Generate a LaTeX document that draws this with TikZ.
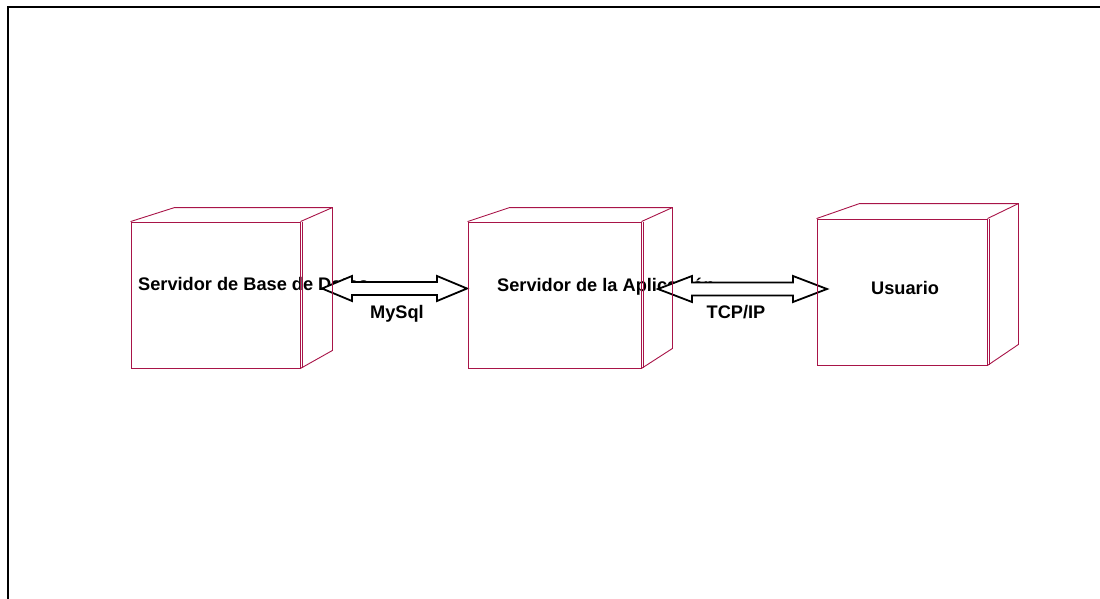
\documentclass[tikz,border=0pt]{standalone}
\usepackage{fontspec}
\setmainfont{Liberation Sans}
\usetikzlibrary{calc}
\definecolor{nodecol}{RGB}{168,20,72}
\newcommand\blockarrow[4]{%
  \draw[barrow] let \p1=(#1), \p2=(#2) in
    (\p1) -- (\x1+#3pt,\y1+#4pt) -- (\x1+#3pt,\y1+6.5pt) -- (\x2-#3pt,\y1+6.5pt)
    -- (\x2-#3pt,\y1+#4pt) -- (\p2) -- (\x2-#3pt,\y1-#4pt) -- (\x2-#3pt,\y1-6.5pt)
    -- (\x1+#3pt,\y1-6.5pt) -- (\x1+#3pt,\y1-#4pt) -- cycle;}
\begin{document}
\begin{tikzpicture}[x=1pt,y=-1pt,
  front/.style={draw=nodecol,line width=0.9pt,inner sep=0pt,fill=none},
  edge3d/.style={draw=nodecol,line width=0.9pt},
  lbl/.style={inner sep=0pt,font=\fontsize{18.2}{22}\selectfont\bfseries},
  barrow/.style={draw=black,fill=white,line width=1.8pt,line join=miter}]
\useasboundingbox (0,0) rectangle (1100,599);
% frame
\coordinate (fb) at (8,599);
\coordinate (fc) at (8,7);
\coordinate (fr) at (1100,7);
\draw[line width=1.6pt] (fb) -- (fc) -- (fr);
% texts
\node[lbl,anchor=base west] (t1) at (138,290) {Servidor de Base de Datos};
\node[lbl,anchor=base west] (t2) at (497,291) {Servidor de la Aplicación};
\node[lbl,anchor=base west] (t3) at (871,294) {Usuario};
% arrows
\coordinate (a1l) at (322,288.5);
\coordinate (a1r) at (467,288.5);
\coordinate (a2l) at (658,289);
\coordinate (a2r) at (827,289);
\blockarrow{a1l}{a1r}{30}{12.5}
\blockarrow{a2l}{a2r}{34}{13}
% box 1
\node[front,minimum width=169pt,minimum height=146pt] (db) at (215.5,295) {};
\draw[edge3d] (db.north west) -- ([shift={(44,-14)}]db.north west) -- ([shift={(32,-14)}]db.north east)
  -- ([shift={(32,-18)}]db.south east) -- (db.south east);
\draw[edge3d] (db.north east) -- ([shift={(32,-14)}]db.north east);
\draw[edge3d] ([xshift=2pt]db.north east) -- ([xshift=2pt]db.south east);
% box 2
\node[front,minimum width=173pt,minimum height=146pt] (app) at (554.5,295) {};
\draw[edge3d] (app.north west) -- ([shift={(42,-14)}]app.north west) -- ([shift={(31,-14)}]app.north east)
  -- ([shift={(31,-20)}]app.south east) -- (app.south east);
\draw[edge3d] (app.north east) -- ([shift={(31,-14)}]app.north east);
\draw[edge3d] ([xshift=1.5pt]app.north east) -- ([xshift=1.5pt]app.south east);
% box 3
\node[front,minimum width=170pt,minimum height=146pt] (usr) at (902,292) {};
\draw[edge3d] (usr.north west) -- ([shift={(43,-15)}]usr.north west) -- ([shift={(31,-15)}]usr.north east)
  -- ([shift={(31,-21)}]usr.south east) -- (usr.south east);
\draw[edge3d] (usr.north east) -- ([shift={(31,-15)}]usr.north east);
\draw[edge3d] ([xshift=1.5pt]usr.north east) -- ([xshift=1.5pt]usr.south east);
% connector labels
\node[lbl,anchor=base] (m1) at (397,318) {MySql};
\node[lbl,anchor=base] (m2) at (736,318) {TCP/IP};
\end{tikzpicture}
\end{document}
